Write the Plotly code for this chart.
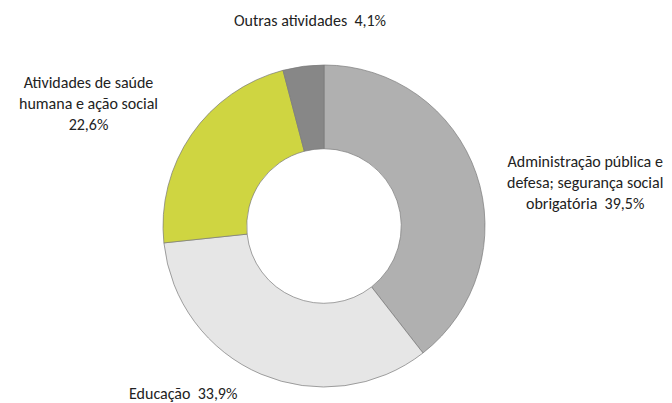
import plotly.graph_objects as go

sectors = ["Administração pública e defesa; segurança social obrigatória",
           "Educação",
           "Atividades de saúde humana e ação social",
           "Outras atividades"]
shares = [39.5, 33.9, 22.6, 4.1]
label_text = ["Administração pública e<br>defesa; segurança social<br>obrigatória  39,5%",
              "Educação  33,9%",
              "Atividades de saúde<br>humana e ação social<br>22,6%",
              "Outras atividades  4,1%"]
colors = ["#b0b0b0", "#e6e6e6", "#cfd541", "#878787"]

W, H = 672, 403
cx, cy, r = 324, 226, 161

fig = go.Figure(go.Pie(
    labels=sectors,
    values=shares,
    sort=False,
    direction="clockwise",
    rotation=0,
    hole=0.48,
    textinfo="none",
    marker=dict(colors=colors, line=dict(color="#7a7a7a", width=0.7)),
    domain=dict(x=[(cx - r) / W, (cx + r) / W],
                y=[(H - cy - r) / H, (H - cy + r) / H]),
    showlegend=False,
))

# posições dos rótulos (px)
label_pos = [(585, 183), (183, 393), (88, 103), (310, 20)]
for txt, (x, y) in zip(label_text, label_pos):
    fig.add_annotation(x=x / W, y=1 - y / H, xref="paper", yref="paper",
                       text=txt, showarrow=False, align="center",
                       xanchor="center", yanchor="middle",
                       font=dict(family="Carlito, Lato, sans-serif", size=16, color="#222222"))

fig.update_layout(
    width=W, height=H,
    margin=dict(l=0, r=0, t=0, b=0),
    paper_bgcolor="white",
    plot_bgcolor="white",
)

fig.write_html("out.html", config={"displayModeBar": False},
               post_script="document.body.style.margin='0';")
